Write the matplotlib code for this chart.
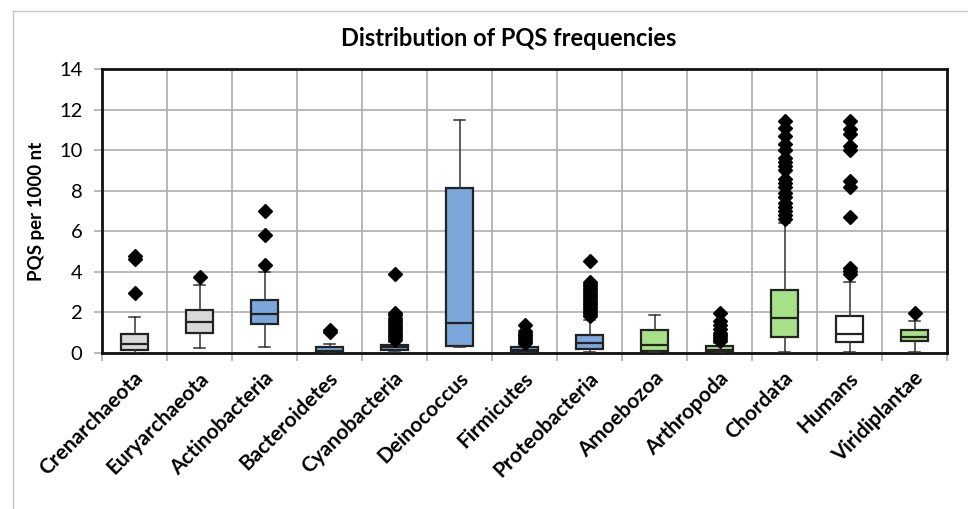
import matplotlib
matplotlib.use("Agg")
import matplotlib.pyplot as plt
from matplotlib.lines import Line2D

categories = ["Crenarchaeota", "Euryarchaeota", "Actinobacteria", "Bacteroidetes",
              "Cyanobacteria", "Deinococcus", "Firmicutes", "Proteobacteria",
              "Amoebozoa", "Arthropoda", "Chordata", "Humans", "Viridiplantae"]

q1 =      [0.16, 0.99, 1.45, 0.03, 0.13, 0.36, 0.03, 0.21, 0.10, 0.03, 0.80, 0.53, 0.59]
median =  [0.43, 1.54, 1.92, 0.12, 0.31, 1.50, 0.16, 0.51, 0.39, 0.15, 1.71, 0.94, 0.80]
q3 =      [0.92, 2.10, 2.60, 0.31, 0.39, 8.11, 0.28, 0.87, 1.12, 0.33, 3.10, 1.81, 1.12]
whislo =  [0.02, 0.25, 0.31, 0.02, 0.03, 0.31, 0.02, 0.03, 0.05, 0.02, 0.03, 0.03, 0.03]
whishi =  [1.79, 3.37, 4.00, 0.46, 0.56, 11.50, 0.40, 1.63, 1.86, 0.48, 6.40, 3.52, 1.60]

fliers = [
    [2.94, 4.63, 4.78],
    [3.75],
    [4.34, 5.82, 7.00],
    [1.05, 1.15],
    [0.65, 0.75, 0.85, 0.95, 1.05, 1.15, 1.25, 1.35, 1.45, 1.55, 1.65, 1.75, 1.85, 1.95, 3.88],
    [],
    [0.5, 0.6, 0.7, 0.8, 0.9, 1.0, 1.1, 1.4],
    [1.8, 1.9, 2.0, 2.1, 2.2, 2.3, 2.4, 2.5, 2.6, 2.7, 2.8, 2.9, 3.0, 3.1, 3.2, 3.3, 3.4, 3.5, 4.53],
    [],
    [0.6, 0.7, 0.8, 0.9, 1.0, 1.2, 1.4, 1.6, 1.95],
    [6.6, 6.8, 7.0, 7.2, 7.4, 7.7, 7.9, 8.2, 8.4, 8.6, 9.0, 9.2, 9.4, 9.6, 10.0, 10.3, 10.7, 11.1, 11.45],
    [3.9, 4.05, 4.2, 6.72, 8.2, 8.5, 10.0, 10.2, 10.8, 11.05, 11.45],
    [1.99],
]

colors = ["#D9D9D9", "#D9D9D9", "#7BA7DC", "#7BA7DC", "#7BA7DC", "#7BA7DC", "#7BA7DC",
          "#7BA7DC", "#A6E087", "#A6E087", "#A6E087", "#FFFFFF", "#A6E087"]

title = "Distribution of PQS frequencies"
ylabel = "PQS per 1000 nt"
yticks = [0, 2, 4, 6, 8, 10, 12, 14]

W, H = 968, 509
fig = plt.figure(figsize=(W / 100, H / 100), dpi=100)
ax = fig.add_axes([102 / W, 1 - 353 / H, (947 - 102) / W, (353 - 69) / H])

stats = []
for i in range(len(categories)):
    stats.append(dict(med=median[i], q1=q1[i], q3=q3[i], whislo=whislo[i],
                      whishi=whishi[i], fliers=fliers[i], label=categories[i]))

positions = list(range(1, len(categories) + 1))
bp = ax.bxp(stats, positions=positions, widths=0.41, capwidths=0.17,
            patch_artist=True, showfliers=True,
            boxprops=dict(edgecolor="#222222", linewidth=1.6),
            medianprops=dict(color="#222222", linewidth=1.6),
            whiskerprops=dict(color="#333333", linewidth=1.1),
            capprops=dict(color="#333333", linewidth=1.1),
            flierprops=dict(marker="D", markerfacecolor="black", markeredgecolor="black",
                            markersize=6.8))
for patch, c in zip(bp["boxes"], colors):
    patch.set_facecolor(c)
for b in bp["boxes"] + bp["medians"] + bp["whiskers"] + bp["caps"] + bp["fliers"]:
    b.set_zorder(3)

ax.set_xlim(0.5, len(categories) + 0.5)
ax.set_ylim(0, 14)
ax.set_yticks(yticks)
ax.set_yticklabels([str(v) for v in yticks], fontsize=14.5, family="Lato")
ax.yaxis.grid(True, color="#ADADAD", linewidth=1.2, zorder=0)

# vertical grid at category boundaries
bounds = [p + 0.5 for p in positions[:-1]]
for bx in bounds:
    ax.axvline(bx, color="#ADADAD", linewidth=1.2, zorder=0)

ax.set_xticks([p - 0.5 for p in positions] + [len(categories) + 0.5])
ax.set_xticklabels([])
ax.tick_params(axis="x", length=6, color="#ADADAD", width=1.2)
ax.tick_params(axis="y", length=6, color="#ADADAD", width=1.2, pad=8)
for s in ax.spines.values():
    s.set_linewidth(2.0)
    s.set_color("#111111")

for p, name in zip(positions, categories):
    ax.text(p - 0.02, -0.75, name, rotation=45, ha="right", va="top",
            rotation_mode="anchor", fontsize=15, fontweight="bold", family="Lato")

ax.set_ylabel(ylabel, fontsize=13.5, fontweight="bold", family="Lato", labelpad=10)
fig.text(509 / W, 1 - 39 / H, title, ha="center", va="center",
         fontsize=17, fontweight="bold", family="Lato")

# light chart-area border
fig.add_artist(Line2D([13 / W, 1.0], [1 - 11 / H, 1 - 11 / H], transform=fig.transFigure,
                      color="#C8C8C8", linewidth=1.0))
fig.add_artist(Line2D([13 / W, 13 / W], [0, 1 - 11 / H], transform=fig.transFigure,
                      color="#C8C8C8", linewidth=1.0))

fig.savefig("out.png", dpi=100)
